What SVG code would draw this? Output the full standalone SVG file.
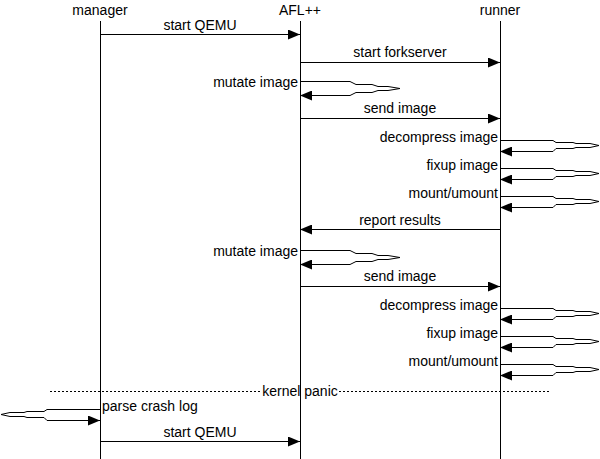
<svg xmlns="http://www.w3.org/2000/svg" width="600" height="459" viewBox="0 0 600 459">
<style>
text{font-family:"Liberation Sans",Arial,sans-serif;font-size:14px;fill:#000}
.l{stroke:#000;stroke-width:1;fill:none}
.m{text-anchor:middle}
.e{text-anchor:end}
.d{stroke:#000;stroke-width:1;stroke-dasharray:2,2;fill:none}
</style>
<defs>
<marker id="a" markerWidth="12" markerHeight="10" refX="12" refY="5" orient="auto" markerUnits="userSpaceOnUse">
<path d="M0,0 L12,5 L0,10 Z" fill="#000"/>
</marker>
</defs>
<g id="manager"><text class="m" x="100" y="15">manager</text><line class="l" x1="100.5" y1="21" x2="100.5" y2="459"/></g>
<g id="afl"><text class="m" x="300" y="15">AFL++</text><line class="l" x1="300.5" y1="21" x2="300.5" y2="459"/></g>
<g id="runner"><text class="m" x="500" y="15">runner</text><line class="l" x1="500.5" y1="21" x2="500.5" y2="459"/></g>
<g id="connectors">
<line class="l" x1="100" y1="34.5" x2="300" y2="34.5" marker-end="url(#a)"/>
<text class="m" x="200" y="30">start QEMU</text>
<line class="l" x1="300" y1="62.5" x2="500" y2="62.5" marker-end="url(#a)"/>
<text class="m" x="400" y="57">start forkserver</text>
<path class="l" d="M300,81.5 L350,81.5 L356,84.5 L372,84.5 L378,86.5 L388,86.5 L400,88.5 L388,90.5 L378,90.5 L372,92.5 L356,92.5 L350,95.5 L300,95.5" marker-end="url(#a)"/>
<text class="e" x="298" y="87">mutate image</text>
<line class="l" x1="300" y1="118.5" x2="500" y2="118.5" marker-end="url(#a)"/>
<text class="m" x="400" y="113">send image</text>
<path class="l" d="M500,140.5 L553,140.5 L556,142.5 L573,142.5 L576,143.5 L590,143.5 L599,145.5 L590,147.5 L576,147.5 L573,148.5 L556,148.5 L553,151.5 L500,151.5" marker-end="url(#a)"/>
<text class="e" x="498" y="142">decompress image</text>
<path class="l" d="M500,168.5 L553,168.5 L556,170.5 L573,170.5 L576,171.5 L590,171.5 L599,173.5 L590,175.5 L576,175.5 L573,176.5 L556,176.5 L553,179.5 L500,179.5" marker-end="url(#a)"/>
<text class="e" x="498" y="170">fixup image</text>
<path class="l" d="M500,196.5 L553,196.5 L556,198.5 L573,198.5 L576,199.5 L590,199.5 L599,201.5 L590,203.5 L576,203.5 L573,204.5 L556,204.5 L553,207.5 L500,207.5" marker-end="url(#a)"/>
<text class="e" x="498" y="198">mount/umount</text>
<line class="l" x1="500" y1="229.5" x2="300" y2="229.5" marker-end="url(#a)"/>
<text class="m" x="400" y="225">report results</text>
<path class="l" d="M300,250.5 L350,250.5 L356,253.5 L372,253.5 L378,255.5 L388,255.5 L400,257.5 L388,259.5 L378,259.5 L372,261.5 L356,261.5 L350,264.5 L300,264.5" marker-end="url(#a)"/>
<text class="e" x="298" y="256">mutate image</text>
<line class="l" x1="300" y1="286.5" x2="500" y2="286.5" marker-end="url(#a)"/>
<text class="m" x="400" y="281">send image</text>
<path class="l" d="M500,308.5 L553,308.5 L556,310.5 L573,310.5 L576,311.5 L590,311.5 L599,313.5 L590,315.5 L576,315.5 L573,316.5 L556,316.5 L553,319.5 L500,319.5" marker-end="url(#a)"/>
<text class="e" x="498" y="310">decompress image</text>
<path class="l" d="M500,336.5 L553,336.5 L556,338.5 L573,338.5 L576,339.5 L590,339.5 L599,341.5 L590,343.5 L576,343.5 L573,344.5 L556,344.5 L553,347.5 L500,347.5" marker-end="url(#a)"/>
<text class="e" x="498" y="338">fixup image</text>
<path class="l" d="M500,364.5 L553,364.5 L556,366.5 L573,366.5 L576,367.5 L590,367.5 L599,369.5 L590,371.5 L576,371.5 L573,372.5 L556,372.5 L553,375.5 L500,375.5" marker-end="url(#a)"/>
<text class="e" x="498" y="366">mount/umount</text>
<line class="d" x1="50" y1="391.5" x2="262" y2="391.5"/>
<line class="d" x1="339" y1="391.5" x2="550" y2="391.5"/>
<text class="m" x="300" y="396">kernel panic</text>
<path class="l" d="M100,409.5 L47,409.5 L44,411.5 L27,411.5 L24,412.5 L10,412.5 L1,414.5 L10,416.5 L24,416.5 L27,417.5 L44,417.5 L47,420.5 L100,420.5" marker-end="url(#a)"/>
<text x="102" y="411">parse crash log</text>
<line class="l" x1="100" y1="441.5" x2="300" y2="441.5" marker-end="url(#a)"/>
<text class="m" x="200" y="437">start QEMU</text>
</g>
</svg>
